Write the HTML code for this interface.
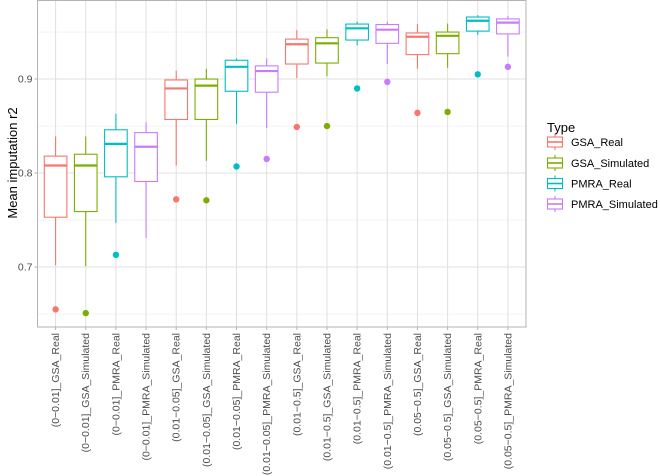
<!DOCTYPE html>
<html><head><meta charset="utf-8"><style>
body{margin:0;background:#fff;}
svg{display:block;font-family:"Liberation Sans",Arial,sans-serif;}
</style></head><body>
<svg id="chart" width="660" height="476" viewBox="0 0 660 476">
<g id="grid"></g>
<g id="boxes"></g>
<rect x="37.5" y="0.5" width="488.5" height="326.5" fill="none" stroke="#b3b3b3" stroke-width="1"/>
<g id="yaxis"></g>
<g id="xaxis"></g>
<text transform="translate(17,163) rotate(-90)" text-anchor="middle" font-size="13" fill="#000">Mean imputation r2</text>
<g id="legend">
<text x="547" y="132" font-size="13" fill="#000">Type</text>
</g>
</svg>
<script>
const categories=["(0\u22120.01]_GSA_Real","(0\u22120.01]_GSA_Simulated","(0\u22120.01]_PMRA_Real","(0\u22120.01]_PMRA_Simulated","(0.01\u22120.05]_GSA_Real","(0.01\u22120.05]_GSA_Simulated","(0.01\u22120.05]_PMRA_Real","(0.01\u22120.05]_PMRA_Simulated","(0.01\u22120.5]_GSA_Real","(0.01\u22120.5]_GSA_Simulated","(0.01\u22120.5]_PMRA_Real","(0.01\u22120.5]_PMRA_Simulated","(0.05\u22120.5]_GSA_Real","(0.05\u22120.5]_GSA_Simulated","(0.05\u22120.5]_PMRA_Real","(0.05\u22120.5]_PMRA_Simulated"];
const types=["GSA_Real","GSA_Simulated","PMRA_Real","PMRA_Simulated"];
const typeColors=["#F8766D","#7CAE00","#00BFC4","#C77CFF"];
const whiskerHigh=[0.839,0.839,0.863,0.854,0.909,0.911,0.922,0.922,0.952,0.953,0.961,0.961,0.9585,0.959,0.968,0.967];
const q3=[0.818,0.820,0.846,0.843,0.899,0.900,0.920,0.914,0.9425,0.944,0.9585,0.958,0.949,0.950,0.966,0.964];
const median=[0.808,0.808,0.831,0.828,0.890,0.893,0.913,0.9085,0.937,0.938,0.954,0.9525,0.945,0.946,0.962,0.960];
const q1=[0.753,0.759,0.796,0.791,0.857,0.857,0.887,0.886,0.916,0.917,0.9415,0.938,0.926,0.927,0.951,0.948];
const whiskerLow=[0.702,0.701,0.747,0.731,0.808,0.813,0.852,0.848,0.901,0.903,0.936,0.916,0.911,0.912,0.947,0.924];
const outliers=[[0.655],[0.651],[0.713],[],[0.772],[0.771],[0.807],[0.815],[0.849],[0.850],[0.890],[0.897],[0.864],[0.865],[0.905],[0.913]];
const majorTicks=[0.7,0.8,0.9];
const tickLabels=["0.7","0.8","0.9"];
const minorTicks=[0.65,0.75,0.85,0.95];

const NS="http://www.w3.org/2000/svg";
const L=37.5,R=526,T=0,B=327;
const yMin=0.6362,yMax=0.9841;
function y(v){return B-(v-yMin)/(yMax-yMin)*(B-T);}
const n=categories.length;
const step=(R-L)/(n-1+1.2);
function x(i){return L+step*(0.6+i);}
function mk(tag,attrs,parent){const e=document.createElementNS(NS,tag);for(const k in attrs)e.setAttribute(k,attrs[k]);parent.appendChild(e);return e;}
const grid=document.getElementById('grid'),boxes=document.getElementById('boxes'),yaxis=document.getElementById('yaxis'),xaxis=document.getElementById('xaxis'),legend=document.getElementById('legend');
minorTicks.forEach(v=>{const l=mk('line',{x1:L,x2:R,y1:y(v),y2:y(v),stroke:'#ebebeb','stroke-width':0.6},grid);

});
majorTicks.forEach((v,i)=>{const l=mk('line',{x1:L,x2:R,y1:y(v),y2:y(v),stroke:'#e0e0e0','stroke-width':1},grid);


const t=mk('line',{x1:L-3,x2:L,y1:y(v),y2:y(v),stroke:'#b3b3b3'},yaxis);


const tx=mk('text',{x:L-5,y:y(v)+3.5,'text-anchor':'end','font-size':10.5,fill:'#4d4d4d'},yaxis);
tx.textContent=tickLabels[i];

});
const bw=step*0.75;
categories.forEach((c,i)=>{const cx=x(i);const col=typeColors[i%4];
const vl=mk('line',{x1:cx,x2:cx,y1:T,y2:B,stroke:'#e0e0e0','stroke-width':1},grid);


const g=mk('g',{},boxes);


mk('line',{x1:cx,x2:cx,y1:y(whiskerHigh[i]),y2:y(q3[i]),stroke:col,'stroke-width':1.1},g);
mk('line',{x1:cx,x2:cx,y1:y(q1[i]),y2:y(whiskerLow[i]),stroke:col,'stroke-width':1.1},g);
mk('rect',{x:cx-bw/2,y:y(q3[i]),width:bw,height:y(q1[i])-y(q3[i]),fill:'#fff',stroke:col,'stroke-width':1.1},g);
mk('line',{x1:cx-bw/2,x2:cx+bw/2,y1:y(median[i]),y2:y(median[i]),stroke:col,'stroke-width':2.2},g);
outliers[i].forEach(o=>{const p=mk('circle',{cx:cx,cy:y(o),r:3.2,fill:col},g);

});
const t=mk('line',{x1:cx,x2:cx,y1:B,y2:B+3,stroke:'#b3b3b3'},xaxis);


const tx=mk('text',{transform:'translate('+(cx+3.5)+','+(B+6)+') rotate(-90)','text-anchor':'end','font-size':10.5,fill:'#4d4d4d'},xaxis);
tx.textContent=c;

});
const ly=[142,163,183.5,204];
types.forEach((tp,i)=>{const col=typeColors[i];const g=mk('g',{},legend);


const cy=ly[i],cx=555;
mk('line',{x1:cx,x2:cx,y1:cy-8,y2:cy+8,stroke:col,'stroke-width':1.1},g);
mk('rect',{x:cx-7.5,y:cy-5,width:15,height:10,fill:'#fff',stroke:col,'stroke-width':1.1},g);
mk('line',{x1:cx-7.5,x2:cx+7.5,y1:cy,y2:cy,stroke:col,'stroke-width':1.6},g);
const tx=mk('text',{x:571,y:cy+4,'font-size':11,fill:'#000'},g);
tx.textContent=tp;});
</script>
</body></html>
